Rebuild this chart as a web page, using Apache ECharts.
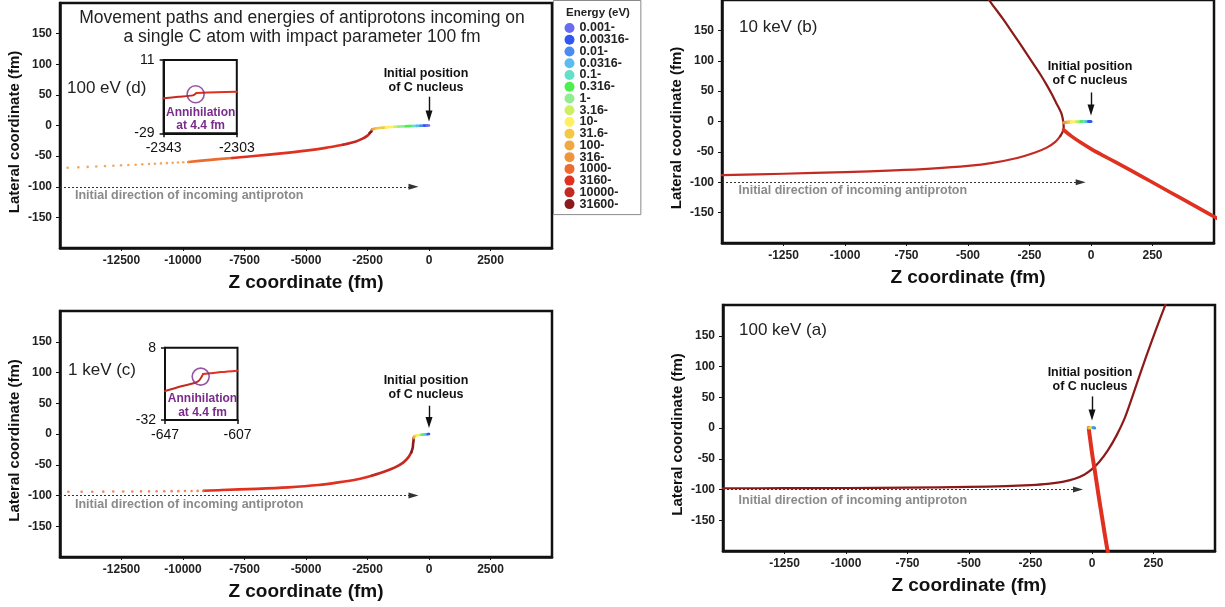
<!DOCTYPE html>
<html><head><meta charset="utf-8">
<script src="https://cdn.jsdelivr.net/npm/echarts@6/dist/echarts.min.js"></script>
<style>html,body{margin:0;padding:0;background:#fff}#chart{width:1225px;height:607px}</style>
</head><body><div id="chart"></div>
<script>
const FONT = "'Liberation Sans', Arial, Helvetica, sans-serif";

// ---- Energy legend bins ----
const energyLabels = ['0.001-','0.00316-','0.01-','0.0316-','0.1-','0.316-','1-','3.16-','10-','31.6-','100-','316-','1000-','3160-','10000-','31600-'];
const energyThresholds = [0.001,0.00316,0.01,0.0316,0.1,0.316,1,3.16,10,31.6,100,316,1000,3160,10000,31600];
const energyColors = ['#6a6af2','#3157f0','#4b8af0','#5bbcf2','#63e0c8','#4cf04c','#90ee90','#ccf060','#fff060','#f5c842','#f2a840','#ef943a','#ec6b2e','#e03020','#c42a22','#8c1a1a'];

// ---- Tick labels ----
const yTickValues = [-150,-100,-50,0,50,100,150];
const zTickValuesWide = [-12500,-10000,-7500,-5000,-2500,0,2500];
const zTickValuesNarrow = [-1250,-1000,-750,-500,-250,0,250];

// ---- (d) 100 eV ----
const dDotsZ = [-14690,-14255,-13875,-13525,-13170,-12830,-12520,-12220,-11925,-11655,-11380,-11140,-10895,-10650,-10420,-10205,-9990,-9785];
const dDotsY = [-69.0,-68.3,-67.6,-67.0,-66.3,-65.7,-65.1,-64.5,-64.0,-63.4,-62.9,-62.4,-61.9,-61.4,-60.9,-60.4,-60.0,-59.5];
const dDotsE = [330,340,350,365,380,395,410,430,450,470,495,520,550,580,610,650,700,760];
const dPathZ = [-9785,-9000,-8000,-7000,-6000,-5000,-4200,-3500,-3000,-2700,-2500,-2414,-2370,-2343,-2325,-2303,-2150,-1950,-1750,-1550,-1400,-1250,-1100,-950,-800,-650,-500,-350,-200,-80,0];
const dPathY = [-59.5,-56.5,-53.0,-49.5,-45.5,-41.0,-36.5,-31.5,-26.5,-21.5,-16.5,-12.5,-10.6,-9.9,-7.5,-6.3,-4.6,-3.6,-3.0,-2.5,-2.1,-1.8,-1.5,-1.2,-1.0,-0.8,-0.6,-0.4,-0.2,-0.1,0];
const dPathE = [1100,1800,3300,3800,4500,6000,8500,12000,16000,20000,27000,33000,40000,45000,50000,150,70,40,18,11,5,2.5,1.2,0.6,0.35,0.15,0.05,0.02,0.007,0.002,0.0012];
const dInsetZ = [-2343,-2335,-2327,-2325,-2314,-2303];
const dInsetY = [-9.9,-9.1,-8.3,-7.0,-6.6,-6.3];
const dInsetE = [15000,15000,15000,5000,5000,5000];
const dAnnihilation = [-2325.5,-7.7];

// ---- (c) 1 keV ----
const cDotsZ = [-14660,-14120,-13690,-13240,-12835,-12430,-12060,-11705,-11380,-11070,-10760,-10460,-10190,-9920,-9650,-9405,-9160];
const cDotsY = [-94.0,-93.9,-93.9,-93.7,-93.6,-93.6,-93.4,-93.3,-93.3,-93.1,-93.0,-92.9,-92.9,-92.7,-92.6,-92.5,-92.4];
const cDotsE = [1030,1060,1090,1120,1150,1190,1230,1280,1330,1390,1450,1520,1600,1690,1790,1900,2050];
const cPathZ = [-9160,-8427,-7000,-5720,-4500,-3687,-2900,-2329,-1800,-1382,-1050,-841,-720,-660,-647,-629,-626,-607,-560,-500,-440,-380,-320,-260,-200,-140,-80,-30,0];
const cPathY = [-92.4,-91.0,-89.2,-86.8,-83.0,-78.7,-73.5,-67.8,-61.0,-54.3,-46.5,-38.0,-30.0,-22.0,-16.0,-10.8,-6.6,-4.7,-3.3,-2.5,-2.0,-1.6,-1.3,-1.0,-0.8,-0.5,-0.3,-0.1,0];
const cPathE = [3300,3500,3800,4400,5200,6300,7800,10500,13000,16000,20000,26000,33000,40000,45000,50000,400,120,60,25,10,4,1.5,0.5,0.15,0.05,0.015,0.005,0.0015];
const cInsetZ = [-647,-638,-629,-626,-616,-607];
const cInsetY = [-16.0,-13.3,-10.8,-6.6,-5.5,-4.7];
const cInsetE = [15000,15000,15000,5000,5000,5000];
const cAnnihilation = [-627.3,-8.0];

// ---- (b) 10 keV ----
const bInZ = [-1500,-1250,-1000,-800,-650,-500,-400,-300,-230,-180,-145,-125,-114,-111,-112,-115,-121,-130,-142,-158,-178,-205,-233,-272,-314,-360,-409,-430];
const bInY = [-88.2,-86.0,-83.3,-80.5,-77.5,-73.0,-68.0,-60.0,-51.5,-43.0,-33.5,-24.0,-16.0,-9.0,-3.0,5.0,14.0,22.0,31.0,44.0,58.7,77.0,94.0,118.0,143.0,170.0,197.0,210.0];
const bInE = [10500,11000,11500,12000,12800,14000,15500,18000,21000,25000,30000,34000,38000,42000,44000,43000,42000,41000,40000,39000,38000,37000,36000,35000,34500,34000,33500,33000];
const bOutZ = [-111,-80,-40,0,40,100,160,240,320,400,480,520];
const bOutY = [-14,-24,-35,-45,-54,-67,-80,-98,-116,-134,-152,-161];
const bOutE = [5000,5000,5000,5000,5000,5000,5000,5000,5000,5000,5000,5000];
const bNucZ = [-112,-100,-90,-80,-70,-60,-50,-40,-30,-20,-10,0];
const bNucY = [-2,-1.2,-0.9,-0.7,-0.5,-0.4,-0.3,-0.2,-0.1,0,0,0];
const bNucE = [400,150,60,25,10,4,1.5,0.5,0.15,0.04,0.005,0.002];

// ---- (a) 100 keV ----
const aInZ = [-1500,-1250,-1000,-750,-500,-350,-250,-180,-120,-70,-30,0,30,65,100,133,160,187,220,260,300,330];
const aInY = [-98.0,-97.9,-97.6,-97.0,-95.8,-94.5,-92.8,-90.8,-87.5,-82.5,-75.5,-67.0,-55.0,-36.0,-12.0,16.0,46.0,78.0,116.0,160.0,202.0,232.0];
const aInE = [100000,100000,100000,100000,100000,100000,100000,100000,100000,100000,100000,100000,100000,100000,100000,100000,100000,100000,100000,100000,100000,100000];
const aOutZ = [-13,-11.5,-8.5,-4,2,11,20,30,40,50,60,66,70];
const aOutY = [0,-6,-15,-29,-46,-68,-92,-118,-143,-168,-192,-205,-214];
const aOutE = [5000,5000,5000,5000,5000,5000,5000,5000,5000,5000,5000,5000,5000];
const aNucZ = [-14,-9,-4,1,6,11];
const aNucY = [0,0.3,0.5,0.5,0.3,0];
const aNucE = [300,40,4,0.3,0.03,0.003];

// ---------------------------------------------------------------
function binOf(e){ let k = 0; for (let i = 0; i < energyThresholds.length; i++) if (e >= energyThresholds[i]) k = i; return k; }

function pathSeries(zs, ys, es, axisIndex, width, z){
  const out = []; let start = 0;
  for (let i = 0; i < zs.length - 1; i++) {
    const b = binOf(es[i]);
    const nb = (i + 1 < zs.length - 1) ? binOf(es[i + 1]) : -1;
    if (nb !== b) {
      const data = [];
      for (let j = start; j <= i + 1; j++) data.push([zs[j], ys[j]]);
      out.push({
        type: 'line', xAxisIndex: axisIndex, yAxisIndex: axisIndex, data,
        smooth: 0.3, symbol: 'none', showSymbol: false, silent: true, z: z || 3,
        lineStyle: { color: energyColors[b], width, cap: 'round', join: 'round' }
      });
      start = i + 1;
    }
  }
  return out;
}

function dotsSeries(zs, ys, es, axisIndex){
  return { type: 'scatter', xAxisIndex: axisIndex, yAxisIndex: axisIndex, silent: true, symbolSize: 2.6, z: 3,
    data: zs.map((z, i) => [z, ys[i], es[i]]) };
}

function arrowsSeries(axisIndex, minZ, nucTop, nucEnd, dirEnd){
  return {
    type: 'scatter', xAxisIndex: axisIndex, yAxisIndex: axisIndex, data: [], silent: true,
    markLine: {
      silent: true, animation: false, symbol: ['none', 'triangle'],
      label: { show: false }, emphasis: { disabled: true },
      data: [
        [ { coord: [0, nucTop], lineStyle: { color: '#111', width: 1.4, type: 'solid' } },
          { coord: [0, nucEnd], symbolSize: [7, 11], itemStyle: { color: '#111' } } ],
        [ { coord: [minZ, -100], lineStyle: { color: '#333', width: 1.1, type: [2, 2] } },
          { coord: [dirEnd, -100], symbolSize: [6, 10], itemStyle: { color: '#333' } } ]
      ]
    }
  };
}

function circleSeries(pt, axisIndex){
  return { type: 'scatter', xAxisIndex: axisIndex, yAxisIndex: axisIndex, silent: true, z: 5,
    data: [pt], symbol: 'circle', symbolSize: 17,
    itemStyle: { color: 'rgba(0,0,0,0)', borderColor: '#7b2c8b', borderWidth: 1.6 } };
}

function mainX(gridIndex, min, max, interval, ticks){
  return { type: 'value', gridIndex, min, max, interval,
    name: 'Z coordinate (fm)', nameLocation: 'middle', nameGap: 25,
    nameTextStyle: { fontSize: 19, fontWeight: 'bold', color: '#111', fontFamily: FONT },
    axisLine: { show: true, onZero: false, lineStyle: { color: '#111', width: 2.5 } },
    axisTick: { show: true, length: 3, customValues: ticks, lineStyle: { color: '#111', width: 1 } },
    axisLabel: { customValues: ticks, formatter: v => String(v),
      fontSize: 12, fontWeight: 'bold', color: '#222', margin: 7, fontFamily: FONT },
    splitLine: { show: false } };
}
function mainY(gridIndex){
  return { type: 'value', gridIndex, min: -200, max: 200, interval: 50,
    name: 'Lateral coordinate (fm)', nameLocation: 'middle', nameGap: 38,
    nameTextStyle: { fontSize: 15, fontWeight: 'bold', color: '#111', fontFamily: FONT, padding: [0, 13, 0, 0] },
    axisLine: { show: true, onZero: false, lineStyle: { color: '#111', width: 2.5 } },
    axisTick: { show: true, length: 4, customValues: yTickValues, lineStyle: { color: '#111', width: 1 } },
    axisLabel: { customValues: yTickValues, formatter: v => String(v),
      fontSize: 12, fontWeight: 'bold', color: '#222', margin: 8, fontFamily: FONT },
    splitLine: { show: false } };
}
function insetAxis(type, gridIndex, min, max){
  return { type: 'value', gridIndex, min, max, interval: 40,
    axisLine: { show: true, onZero: false, lineStyle: { color: '#111', width: 2 } },
    axisTick: { show: true, length: 4, lineStyle: { color: '#111', width: 1.5 } },
    axisLabel: { formatter: v => String(v), fontSize: 14, color: '#111', margin: type === 'x' ? 8 : 9, fontFamily: FONT },
    splitLine: { show: false } };
}

const gridBase = { show: true, borderColor: '#111', borderWidth: 2.5, containLabel: false };
const grids = [
  Object.assign({ left: 60, top: 3, width: 492, height: 245 }, gridBase),      // d
  Object.assign({ left: 722, top: -2, width: 492, height: 245 }, gridBase),    // b
  Object.assign({ left: 60, top: 311, width: 492, height: 246 }, gridBase),    // c
  Object.assign({ left: 723, top: 305, width: 492, height: 246 }, gridBase),   // a
  { show: true, borderColor: '#111', borderWidth: 2, backgroundColor: '#fff', left: 163.6, top: 60, width: 73.2, height: 73.3 },   // d inset
  { show: true, borderColor: '#111', borderWidth: 2, backgroundColor: '#fff', left: 165, top: 347.7, width: 72.5, height: 72.3 }   // c inset
];

const xAxes = [
  mainX(0, -15000, 5000, 2500, zTickValuesWide),
  mainX(1, -1500, 500, 250, zTickValuesNarrow),
  mainX(2, -15000, 5000, 2500, zTickValuesWide),
  mainX(3, -1500, 500, 250, zTickValuesNarrow),
  insetAxis('x', 4, -2343, -2303),
  insetAxis('x', 5, -647, -607)
];
const yAxes = [ mainY(0), mainY(1), mainY(2), mainY(3), insetAxis('y', 4, -29, 11), insetAxis('y', 5, -32, 8) ];

const series = [];
const dotsIdx = [];
dotsIdx.push(series.length); series.push(dotsSeries(dDotsZ, dDotsY, dDotsE, 0));
dotsIdx.push(series.length); series.push(dotsSeries(cDotsZ, cDotsY, cDotsE, 2));
series.push(...pathSeries(dPathZ, dPathY, dPathE, 0, 2.6));
series.push(...pathSeries(cPathZ, cPathY, cPathE, 2, 2.6));
series.push(...pathSeries(bInZ, bInY, bInE, 1, 2.2));
series.push(...pathSeries(bOutZ, bOutY, bOutE, 1, 3.6));
series.push(...pathSeries(bNucZ, bNucY, bNucE, 1, 3, 4));
series.push(...pathSeries(aInZ, aInY, aInE, 3, 2.2));
series.push(...pathSeries(aOutZ, aOutY, aOutE, 3, 4));
series.push(...pathSeries(aNucZ, aNucY, aNucE, 3, 3, 4));
series.push(...pathSeries(dInsetZ, dInsetY, dInsetE, 4, 2));
series.push(...pathSeries(cInsetZ, cInsetY, cInsetE, 5, 2));
series.push(circleSeries(dAnnihilation, 4));
series.push(circleSeries(cAnnihilation, 5));
series.push(arrowsSeries(0, -15000, 47, 15.4, -630));
series.push(arrowsSeries(2, -15000, 46, 18.7, -630));
series.push(arrowsSeries(1, -1500, 47.8, 18.8, -42));
series.push(arrowsSeries(3, -1500, 51.4, 21.3, -57));

const pieces = energyThresholds.map((t, i) => {
  const p = { gte: t, label: energyLabels[i], color: energyColors[i] };
  if (i < energyThresholds.length - 1) p.lt = energyThresholds[i + 1];
  return p;
});

function txt(x, y, text, font, fill, align, lineHeight){
  return { type: 'text', x, y, silent: true, z: 10,
    style: { text, font, fill, align: align || 'left', verticalAlign: 'middle', lineHeight: lineHeight || undefined } };
}
const labelFont = `17px ${FONT}`;
const nucFont = `bold 12.5px ${FONT}`;
const dirFont = `bold 12.5px ${FONT}`;
const annFont = `bold 12px ${FONT}`;
const graphics = [
  txt(598, 12.7, 'Energy (eV)', `bold 11.5px ${FONT}`, '#222', 'center'),
  txt(67, 88.3, '100 eV (d)', labelFont, '#222'),
  txt(68, 370, '1 keV (c)', labelFont, '#222'),
  txt(739, 27.3, '10 keV (b)', labelFont, '#222'),
  txt(739, 330.7, '100 keV (a)', labelFont, '#222'),
  txt(426, 80.3, 'Initial position\nof C nucleus', nucFont, '#111', 'center', 14),
  txt(426, 388, 'Initial position\nof C nucleus', nucFont, '#111', 'center', 14),
  txt(1090, 73.7, 'Initial position\nof C nucleus', nucFont, '#111', 'center', 14),
  txt(1090, 379.7, 'Initial position\nof C nucleus', nucFont, '#111', 'center', 14),
  txt(75, 195.3, 'Initial direction of incoming antiproton', dirFont, '#8a8a8a'),
  txt(75, 504.3, 'Initial direction of incoming antiproton', dirFont, '#8a8a8a'),
  txt(738.6, 191, 'Initial direction of incoming antiproton', dirFont, '#8a8a8a'),
  txt(738.6, 500.3, 'Initial direction of incoming antiproton', dirFont, '#8a8a8a'),
  txt(200.7, 119, 'Annihilation\nat 4.4 fm', annFont, '#7b2c8b', 'center', 13.4),
  txt(202.5, 405.7, 'Annihilation\nat 4.4 fm', annFont, '#7b2c8b', 'center', 13.4)
];

const chart = echarts.init(document.getElementById('chart'), null, { renderer: 'canvas' });
chart.setOption({
  animation: false,
  backgroundColor: '#fff',
  title: {
    text: 'Movement paths and energies of antiprotons incoming on\na single C atom with impact parameter 100 fm',
    left: 302, top: 9, padding: 0, textAlign: 'center',
    textStyle: { fontSize: 17.5, fontWeight: 'normal', color: '#222', lineHeight: 19, fontFamily: FONT }
  },
  grid: grids,
  xAxis: xAxes,
  yAxis: yAxes,
  visualMap: {
    type: 'piecewise', dimension: 2, seriesIndex: dotsIdx,
    pieces, orient: 'vertical', inverse: true, showLabel: true,
    left: 553, top: 0, z: 4,
    itemSymbol: 'circle', itemWidth: 10, itemHeight: 10, itemGap: -1.26, textGap: 5,
    textStyle: { fontSize: 12.5, fontWeight: 'bold', color: '#222', fontFamily: FONT },
    backgroundColor: '#fff', borderColor: '#8a8a8a', borderWidth: 1,
    padding: [21, 12, 4, 11], hoverLink: false, selectedMode: false
  },
  graphic: graphics,
  series
});
</script>
</body></html>
